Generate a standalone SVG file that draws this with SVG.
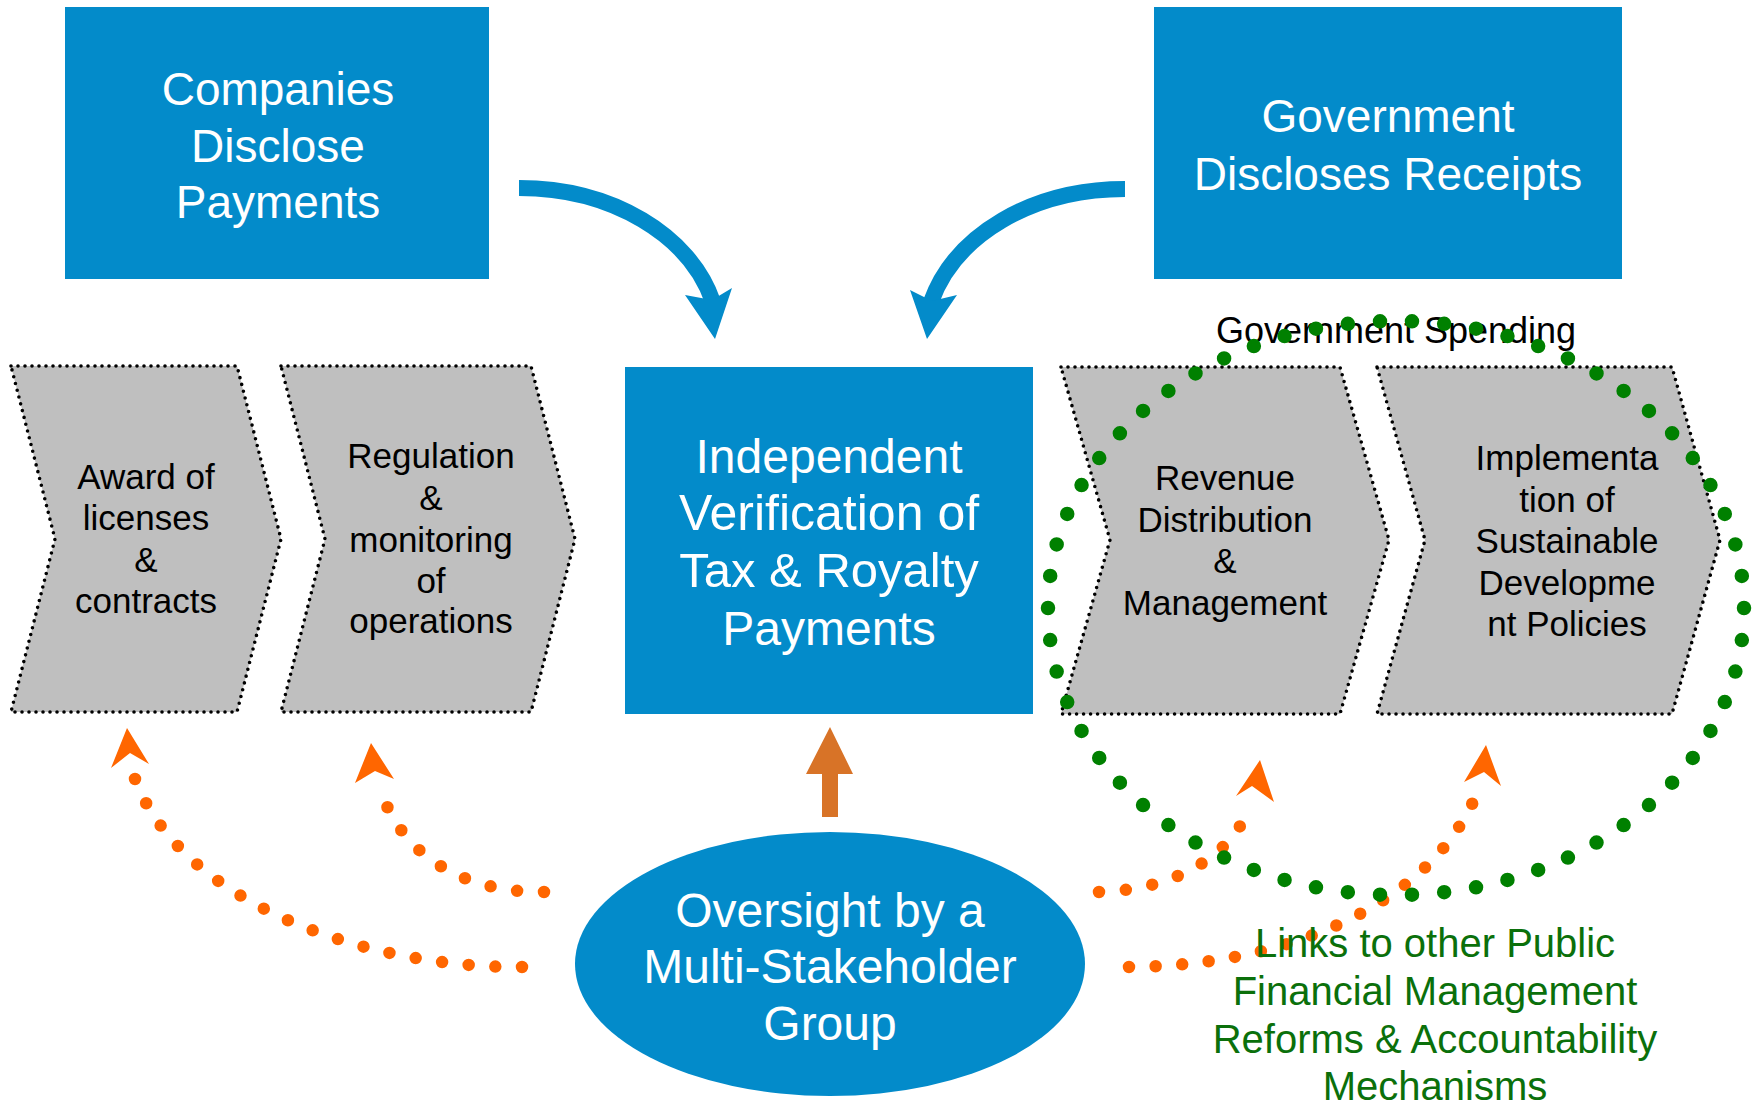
<svg xmlns="http://www.w3.org/2000/svg" width="1758" height="1107" viewBox="0 0 1758 1107">
<style>
  .box { fill: #038BCA; }
  .wt { fill: #FFFFFF; font-family: "Liberation Sans", Arial, sans-serif; text-anchor: middle; }
  .chev { fill: #BFBFBF; stroke: #000000; stroke-width: 3.6; stroke-dasharray: 0 7; stroke-linecap: round; stroke-linejoin: round; }
  .bt { fill: #000000; font-family: "Liberation Sans", Arial, sans-serif; font-size: 35px; text-anchor: middle; }
  .blue-arc { fill: none; stroke: #038BCA; stroke-width: 16; }
  .blue-head { fill: #038BCA; }
  .odots { fill: none; stroke: #FF6600; stroke-width: 12.5; stroke-linecap: round; stroke-dasharray: 0 1; }
  .ohead { fill: #FF6600; }
  .gdots { fill: none; stroke: #008000; stroke-width: 14.5; stroke-linecap: round; stroke-dasharray: 0 1; }
  .gt { fill: #0B700B; font-family: "Liberation Sans", Arial, sans-serif; font-size: 40px; text-anchor: middle; }
</style>

<g id="companies">
  <rect class="box" x="65" y="7" width="424" height="272"/>
  <text class="wt" font-size="46" x="278" y="105">Companies</text>
  <text class="wt" font-size="46" x="278" y="162">Disclose</text>
  <text class="wt" font-size="46" x="278" y="218">Payments</text>
</g>

<g id="government">
  <rect class="box" x="1154" y="7" width="468" height="272"/>
  <text class="wt" font-size="46" x="1388" y="132">Government</text>
  <text class="wt" font-size="46" x="1388" y="190">Discloses Receipts</text>
</g>

<g id="award">
  <path class="chev" d="M11,366 H237 L281,539 L237,712 H11 L55,539 Z"/>
  <text class="bt" x="146" y="489">Award of</text>
  <text class="bt" x="146" y="530">licenses</text>
  <text class="bt" x="146" y="572">&amp;</text>
  <text class="bt" x="146" y="613">contracts</text>
</g>

<g id="regulation">
  <path class="chev" d="M281,366 H531 L575,539 L531,712 H281 L325,539 Z"/>
  <text class="bt" x="431" y="468">Regulation</text>
  <text class="bt" x="431" y="510">&amp;</text>
  <text class="bt" x="431" y="552">monitoring</text>
  <text class="bt" x="431" y="593">of</text>
  <text class="bt" x="431" y="633">operations</text>
</g>

<g id="verification">
  <rect class="box" x="625" y="367" width="408" height="347"/>
  <text class="wt" font-size="48" x="829" y="473">Independent</text>
  <text class="wt" font-size="50" x="829" y="530">Verification of</text>
  <text class="wt" font-size="49" x="829" y="587">Tax &amp; Royalty</text>
  <text class="wt" font-size="48" x="829" y="645">Payments</text>
</g>

<g id="revenue">
  <path class="chev" d="M1061,367 H1340 L1389,540 L1340,714 H1061 L1110,540 Z"/>
  <text class="bt" x="1225" y="490">Revenue</text>
  <text class="bt" x="1225" y="532">Distribution</text>
  <text class="bt" x="1225" y="573">&amp;</text>
  <text class="bt" x="1225" y="615">Management</text>
</g>

<g id="implementation">
  <path class="chev" d="M1377,367 H1672 L1720,540 L1672,714 H1377 L1425,540 Z"/>
  <text class="bt" x="1567" y="470">Implementa</text>
  <text class="bt" x="1567" y="512">tion of</text>
  <text class="bt" x="1567" y="553">Sustainable</text>
  <text class="bt" x="1567" y="595">Developme</text>
  <text class="bt" x="1567" y="636">nt Policies</text>
</g>

<g id="spending-label">
  <text x="1396" y="343" font-family="'Liberation Sans', Arial, sans-serif" font-size="36" text-anchor="middle" fill="#000000">Government Spending</text>
</g>

<g id="oversight">
  <ellipse class="box" cx="830" cy="964" rx="255" ry="132"/>
  <text class="wt" font-size="48" x="830" y="927">Oversight by a</text>
  <text class="wt" font-size="48" x="830" y="983">Multi-Stakeholder</text>
  <text class="wt" font-size="48" x="830" y="1040">Group</text>
</g>

<g id="connectors">
  <path class="blue-arc" d="M519,188 C612,188 690,235 713,302"/>
  <polygon class="blue-head" points="685,295 712,300 732,288 715,339"/>
  <path class="blue-arc" d="M1125,189 C1032,189 955,235 931,302"/>
  <polygon class="blue-head" points="910,290 932,301 957,295 927,339"/>

  <polygon fill="#D87327" points="830,727 853,774 838,774 838,817 822,817 822,774 806,774"/>

  <path class="odots" pathLength="17" d="M522,967 C360,968 180,900 135,779"/>
  <polygon class="ohead" points="127,728 149,764 130,753 111,768"/>
  <path class="odots" pathLength="8" d="M544,892 C470,893 400,860 378,782"/>
  <polygon class="ohead" points="371,743 394,779 375,771 355,783"/>
  <path class="odots" pathLength="7" d="M1099,892 C1175,890 1235,855 1251,802"/>
  <polygon class="ohead" points="1260,760 1274,802 1252,786 1236,796"/>
  <path class="odots" pathLength="16" d="M1129,967 C1300,966 1445,895 1482,779"/>
  <polygon class="ohead" points="1486,745 1501,786 1484,772 1464,782"/>

  <path class="gdots" pathLength="62" d="M1744,608 A348,287 0 1,1 1048,608 A348,287 0 1,1 1744,608"/>
</g>

<g id="links-label">
  <text class="gt" x="1435" y="957">Links to other Public</text>
  <text class="gt" x="1435" y="1005">Financial Management</text>
  <text class="gt" x="1435" y="1053">Reforms &amp; Accountability</text>
  <text class="gt" x="1435" y="1100">Mechanisms</text>
</g>
</svg>
